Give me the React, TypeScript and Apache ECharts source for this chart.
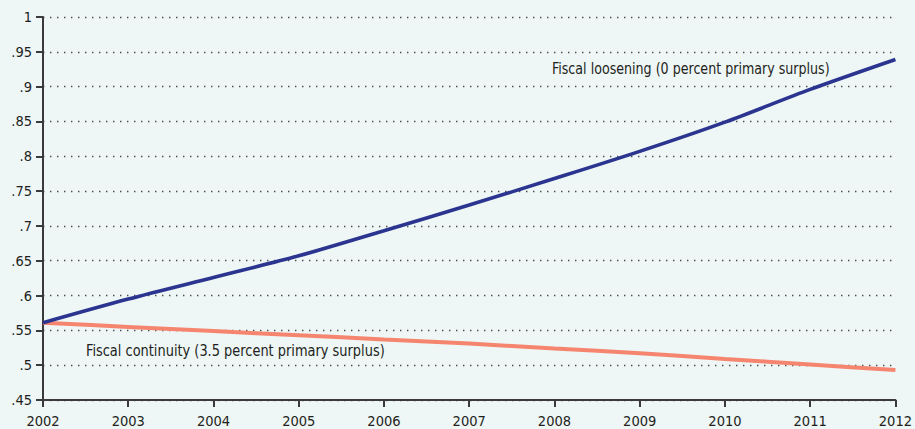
import React, { useEffect, useRef } from "react";
import * as echarts from "echarts";

const years = ["2002", "2003", "2004", "2005", "2006", "2007", "2008", "2009", "2010", "2011", "2012"];
const loosening = [0.561, 0.595, 0.626, 0.657, 0.693, 0.73, 0.768, 0.807, 0.849, 0.896, 0.939];
const continuity = [0.561, 0.555, 0.549, 0.543, 0.537, 0.531, 0.524, 0.517, 0.509, 0.501, 0.493];
const yMin = 0.45;
const yMax = 1;
const yStep = 0.05;
const looseningLabel = "Fiscal loosening (0 percent primary surplus)";
const continuityLabel = "Fiscal continuity (3.5 percent primary surplus)";

const FONT = "'Liberation Sans Narrow', 'DejaVu Sans Condensed', 'Noto Sans', sans-serif";
const TEXT = "#231f20";
const AXIS = "#3a3a3a";

export default function App() {
  const ref = useRef<HTMLDivElement>(null);
  useEffect(() => {
    document.body.style.margin = "0";
    const chart = echarts.init(ref.current!, null, { renderer: "svg" });
    chart.setOption({
      animation: false,
      backgroundColor: "#eef6f6",
      textStyle: { fontFamily: FONT },
      grid: { left: 43, right: 17, top: 17, bottom: 29 },
      xAxis: {
        type: "category",
        data: years,
        boundaryGap: false,
        axisLine: { lineStyle: { color: AXIS, width: 2 } },
        axisTick: { show: true, length: 7, lineStyle: { color: AXIS, width: 2 } },
        axisLabel: { color: TEXT, fontSize: 14.5, fontFamily: FONT, margin: 13, showMinLabel: true, showMaxLabel: true },
        splitLine: { show: false },
      },
      yAxis: {
        type: "value",
        min: yMin,
        max: yMax,
        interval: yStep,
        axisLine: { show: true, lineStyle: { color: AXIS, width: 2 } },
        axisTick: { show: true, length: 7, lineStyle: { color: AXIS, width: 2 } },
        axisLabel: {
          color: TEXT,
          fontSize: 14.5,
          fontFamily: FONT,
          margin: 11,
          formatter: (v: number) => {
            const r = Math.round(v * 100) / 100;
            return r >= 1 ? "1" : String(r).replace(/^0/, "");
          },
        },
        splitLine: { show: true, lineStyle: { color: "#4a4a4a", width: 1.4, type: [1.4, 5.6] } },
      },
      series: [
        {
          type: "line",
          data: loosening,
          smooth: 0.3,
          symbol: "none",
          lineStyle: { color: "#2b3590", width: 3.6 },
          z: 3,
        },
        {
          type: "line",
          data: continuity,
          smooth: 0.3,
          symbol: "none",
          lineStyle: { color: "#f5856f", width: 4 },
          z: 2,
        },
      ],
      graphic: [
        {
          type: "text",
          x: 552,
          y: 69,
          scaleX: 0.88,
          style: { text: looseningLabel, font: `16px ${FONT}`, fill: TEXT, textVerticalAlign: "middle" },
        },
        {
          type: "text",
          x: 86,
          y: 351,
          scaleX: 0.9,
          style: { text: continuityLabel, font: `16px ${FONT}`, fill: TEXT, textVerticalAlign: "middle" },
        },
      ],
    });
    return () => chart.dispose();
  }, []);
  return <div ref={ref} style={{ width: 915, height: 429 }} />;
}
